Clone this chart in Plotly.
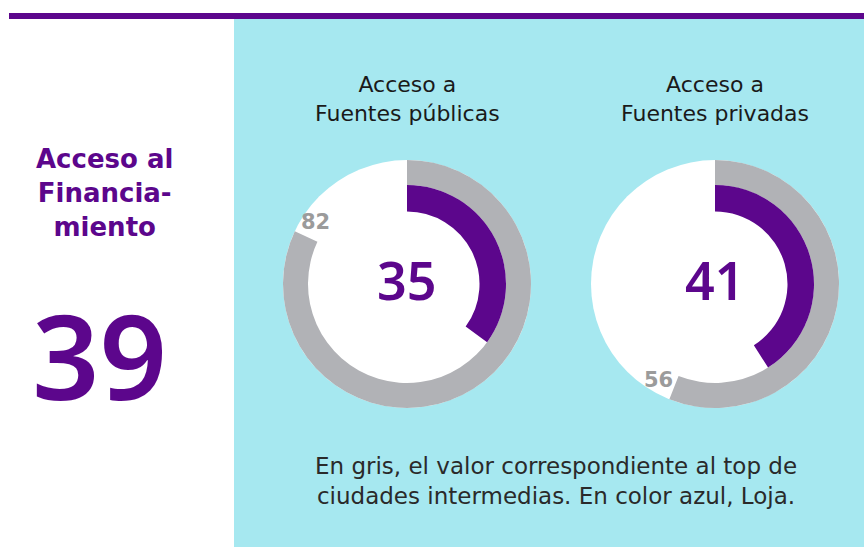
import math
import plotly.graph_objects as go

# ---- data ----
categories = ["Acceso a<br>Fuentes públicas", "Acceso a<br>Fuentes privadas"]
loja_values = [35, 41]
top_values = [82, 56]
overall_title = "Acceso al<br>Financia-<br>miento"
overall_value = 39
note = "En gris, el valor correspondiente al top de<br>ciudades intermedias. En color azul, Loja."

# ---- style ----
W, H = 864, 547
PURPLE = "#5C068C"
GRAY = "#B1B2B6"
CYAN = "#A6E8F0"
LABEL_GRAY = "#9B9B9B"
FONT = "DejaVu Sans"
NUMFONT = "Noto Sans"

centers = [(407, 284), (715, 284)]
R_OUT, R_MID, R_IN = 124, 99, 72.5


def px(x):
    return x / W


def py(y):
    return (H - y) / H


def dom(cx, cy, r):
    return dict(x=[px(cx - r), px(cx + r)], y=[py(cy + r), py(cy - r)])


fig = go.Figure()
annotations = []

for i, cat in enumerate(categories):
    cx, cy = centers[i]
    fig.add_trace(go.Pie(values=[100], marker=dict(colors=["white"]),
                         domain=dom(cx, cy, R_OUT), textinfo="none",
                         hoverinfo="skip", sort=False, showlegend=False))
    fig.add_trace(go.Pie(values=[top_values[i], 100 - top_values[i]],
                         marker=dict(colors=[GRAY, "rgba(0,0,0,0)"]),
                         domain=dom(cx, cy, R_OUT), hole=R_MID / R_OUT,
                         direction="clockwise", sort=False, rotation=0,
                         textinfo="none", hoverinfo="skip", showlegend=False))
    fig.add_trace(go.Pie(values=[loja_values[i], 100 - loja_values[i]],
                         marker=dict(colors=[PURPLE, "rgba(0,0,0,0)"]),
                         domain=dom(cx, cy, R_MID), hole=R_IN / R_MID,
                         direction="clockwise", sort=False, rotation=0,
                         textinfo="none", hoverinfo="skip", showlegend=False))
    annotations.append(dict(x=px(cx), y=py(cy - 5), xref="paper", yref="paper",
                            text=str(loja_values[i]), showarrow=False,
                            font=dict(family=NUMFONT, size=52, color=PURPLE, weight=600),
                            xanchor="center", yanchor="middle"))
    ang = math.radians(top_values[i] / 100 * 360 + 9)
    lr = 111
    lx = cx + lr * math.sin(ang)
    ly = cy - lr * math.cos(ang)
    annotations.append(dict(x=px(lx), y=py(ly), xref="paper", yref="paper",
                            text="<b>%d</b>" % top_values[i], showarrow=False,
                            font=dict(family=FONT, size=21, color=LABEL_GRAY),
                            xanchor="center", yanchor="middle"))
    annotations.append(dict(x=px(cx), y=py(99), xref="paper", yref="paper",
                            text=cat, showarrow=False,
                            font=dict(family=FONT, size=22, color="#1a1a1a"),
                            xanchor="center", yanchor="middle"))

annotations.append(dict(x=px(104), y=py(193), xref="paper", yref="paper",
                        text="<b>" + overall_title + "</b>", showarrow=False,
                        font=dict(family=FONT, size=26, color=PURPLE),
                        xanchor="center", yanchor="middle"))
annotations.append(dict(x=px(99), y=py(354), xref="paper", yref="paper",
                        text=str(overall_value), showarrow=False,
                        font=dict(family=NUMFONT, size=118, color=PURPLE, weight=600),
                        xanchor="center", yanchor="middle"))
annotations.append(dict(x=px(556), y=py(481), xref="paper", yref="paper",
                        text=note, showarrow=False,
                        font=dict(family=FONT, size=23, color="#2a2a2a"),
                        xanchor="center", yanchor="middle"))

shapes = [
    dict(type="rect", xref="paper", yref="paper", x0=px(234), x1=1,
         y0=0, y1=py(19), fillcolor=CYAN, line=dict(width=0), layer="below"),
    dict(type="rect", xref="paper", yref="paper", x0=px(9), x1=1,
         y0=py(19), y1=py(13), fillcolor=PURPLE, line=dict(width=0),
         layer="below"),
]

fig.update_layout(width=W, height=H, margin=dict(l=0, r=0, t=0, b=0),
                  paper_bgcolor="white", plot_bgcolor="white",
                  shapes=shapes, annotations=annotations, showlegend=False)

fig.write_html("out.html", config={"displayModeBar": False},
               post_script="document.body.style.margin='0';"
                           "document.body.style.overflow='hidden';")
